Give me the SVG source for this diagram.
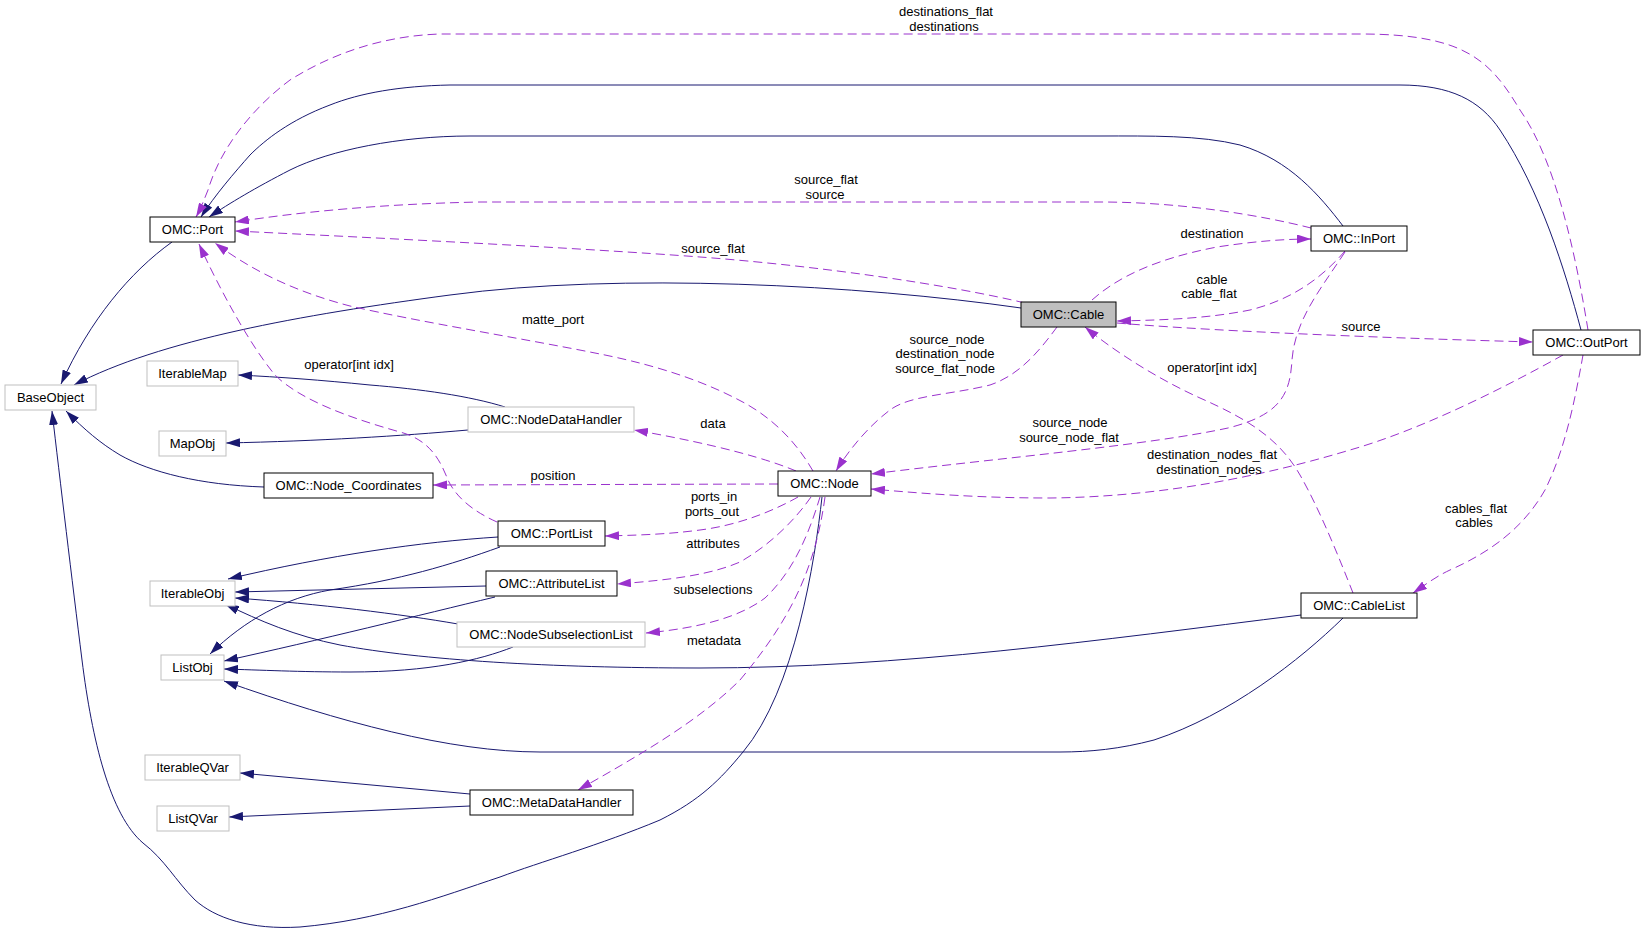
<svg xmlns="http://www.w3.org/2000/svg" width="1645" height="934" viewBox="0 0 1645 934">
<style>
text{font-family:"Liberation Sans",Arial,Helvetica,sans-serif;font-size:13px;fill:#000;text-anchor:middle}
.n rect{fill:#fff;stroke:#000;stroke-width:1}
.g rect{fill:#fff;stroke:#bfbfbf;stroke-width:1}
.cur rect{fill:#bfbfbf;stroke:#000;stroke-width:1}
.inh{fill:none;stroke:#191970;stroke-width:1;marker-end:url(#an)}
.use{fill:none;stroke:#9a32cd;stroke-width:1;stroke-dasharray:9,5;marker-end:url(#ap)}
</style>
<defs>
<marker id="an" viewBox="0 0 14 9" markerWidth="14" markerHeight="9" refX="14" refY="4.5" orient="auto" markerUnits="userSpaceOnUse"><path d="M0,0 L14,4.5 L0,9 z" fill="#191970" stroke="none"/></marker>
<marker id="ap" viewBox="0 0 14 9" markerWidth="14" markerHeight="9" refX="14" refY="4.5" orient="auto" markerUnits="userSpaceOnUse"><path d="M0,0 L14,4.5 L0,9 z" fill="#9a32cd" stroke="none"/></marker>
</defs>
<rect width="1645" height="934" fill="#fff"/>
<g id="connectors">
<path class="inh" d="M172,242 C130,272 90,320 61,384"/>
<path class="inh" d="M1021,308 C860,285 620,272 450,295 C300,315 160,340 74,385"/>
<path class="inh" d="M505,407 C470,396 420,389 370,385 C320,380 280,377 238,375"/>
<path class="inh" d="M468,430 C400,436 320,441 226,443"/>
<path class="inh" d="M264,487 C200,485 150,472 120,455 C100,443 85,430 66,411"/>
<path class="inh" d="M498,537 C420,542 330,555 228,579"/>
<path class="inh" d="M500,547 C450,565 400,580 330,590 C285,598 245,620 210,654"/>
<path class="inh" d="M486,586 L235,592"/>
<path class="inh" d="M495,597 C420,615 320,640 224,661"/>
<path class="inh" d="M458,624 C400,614 320,604 235,598"/>
<path class="inh" d="M513,647 C480,660 430,672 350,672 C300,672 260,670 224,669"/>
<path class="inh" d="M1301,615 C1100,640 900,668 700,668 C550,668 420,660 340,645 C295,636 260,621 225,604"/>
<path class="inh" d="M1343,618 C1300,660 1230,715 1154,740 C1120,749 1090,752 1060,752 L540,752 C450,752 340,722 224,681"/>
<path class="inh" d="M470,794 L240,773"/>
<path class="inh" d="M470,806 L229,817"/>
<path class="inh" d="M822,497 C815,560 795,690 743,752 C720,780 700,800 660,820 C600,845 540,862 500,877 C440,897 380,920 300,927 C250,930 215,918 195,900 C175,880 165,860 143,843 C110,815 92,740 82,660 C72,580 60,480 52,411"/>
<path class="inh" d="M1343,226 C1320,196 1290,160 1240,145 C1200,135 1150,136 1100,136 L470,136 C400,136 330,150 290,170 C255,188 230,203 209,217"/>
<path class="inh" d="M1581,330 C1565,270 1540,190 1500,130 C1480,100 1450,85 1400,85 L450,85 C400,86 360,93 330,105 C290,120 265,140 250,155 C235,172 215,195 201,217"/>
<path class="use" d="M1588,330 C1575,250 1555,160 1520,110 C1490,60 1465,34 1360,34 L440,34 C380,36 330,55 290,80 C250,110 220,150 208,190 C204,200 200,210 196,217"/>
<path class="use" d="M1311,228 C1260,215 1180,202 1100,202 L480,202 C380,204 300,212 235,222"/>
<path class="use" d="M1025,303 C950,285 820,266 700,257 C580,248 380,238 235,231"/>
<path class="use" d="M813,471 C795,440 770,415 735,398 C690,375 640,362 600,354 C520,338 420,322 350,306 C300,293 255,273 215,243"/>
<path class="use" d="M497,522 C470,510 455,495 448,480 C440,460 430,440 400,432 C350,418 300,400 275,375 C250,345 220,290 199,244"/>
<path class="use" d="M1092,300 C1120,275 1160,258 1217,247 C1250,242 1280,239 1311,239"/>
<path class="use" d="M1345,251 C1320,280 1290,300 1250,310 C1210,318 1170,320 1117,321"/>
<path class="use" d="M1117,323 C1200,330 1350,337 1533,342"/>
<path class="use" d="M1057,327 C1040,350 1020,375 990,385 C950,395 910,395 890,410 C870,425 850,448 836,471"/>
<path class="use" d="M1345,252 C1320,290 1295,320 1292,360 C1290,395 1280,415 1228,428 C1150,445 1000,458 871,474"/>
<path class="use" d="M1563,355 C1500,390 1420,430 1350,450 C1250,480 1150,497 1050,498 C980,498 930,494 871,489"/>
<path class="use" d="M1353,593 C1340,560 1320,510 1300,475 C1280,440 1250,420 1200,398 C1160,380 1115,352 1085,327"/>
<path class="use" d="M1583,355 C1575,400 1565,450 1545,490 C1525,525 1495,550 1450,570 C1435,577 1425,585 1413,593"/>
<path class="use" d="M796,471 C770,460 720,445 634,430"/>
<path class="use" d="M778,484 L433,485"/>
<path class="use" d="M798,497 C775,510 740,525 700,530 C670,534 645,535 605,536"/>
<path class="use" d="M811,497 C795,520 770,545 740,562 C710,575 670,580 617,584"/>
<path class="use" d="M820,497 C810,530 795,570 765,598 C740,617 700,628 646,633"/>
<path class="use" d="M825,497 C815,570 790,620 740,680 C700,720 640,755 578,790"/>
<text x="946" y="16">destinations_flat</text>
<text x="944" y="31">destinations</text>
<text x="826" y="184">source_flat</text>
<text x="825" y="199">source</text>
<text x="713" y="253">source_flat</text>
<text x="553" y="324">matte_port</text>
<text x="349" y="369">operator[int idx]</text>
<text x="1212" y="238">destination</text>
<text x="1212" y="284">cable</text>
<text x="1209" y="298">cable_flat</text>
<text x="1361" y="331">source</text>
<text x="947" y="344">source_node</text>
<text x="945" y="358">destination_node</text>
<text x="945" y="373">source_flat_node</text>
<text x="1070" y="427">source_node</text>
<text x="1069" y="442">source_node_flat</text>
<text x="1212" y="372">operator[int idx]</text>
<text x="1212" y="459">destination_nodes_flat</text>
<text x="1209" y="474">destination_nodes</text>
<text x="1476" y="513">cables_flat</text>
<text x="1474" y="527">cables</text>
<text x="713" y="428">data</text>
<text x="553" y="480">position</text>
<text x="714" y="501">ports_in</text>
<text x="712" y="516">ports_out</text>
<text x="713" y="548">attributes</text>
<text x="713" y="594">subselections</text>
<text x="714" y="645">metadata</text>
</g>
<g id="BaseObject" class="g"><rect x="5" y="385" width="91" height="25"/><text x="50.5" y="402">BaseObject</text></g>
<g id="Port" class="n"><rect x="150" y="217" width="85" height="25"/><text x="192.5" y="234">OMC::Port</text></g>
<g id="IterableMap" class="g"><rect x="147" y="361" width="91" height="25"/><text x="192.5" y="378">IterableMap</text></g>
<g id="MapObj" class="g"><rect x="159" y="431" width="67" height="25"/><text x="192.5" y="448">MapObj</text></g>
<g id="Node_Coordinates" class="n"><rect x="264" y="473" width="169" height="25"/><text x="348.5" y="490">OMC::Node_Coordinates</text></g>
<g id="NodeDataHandler" class="g"><rect x="468" y="407" width="166" height="25"/><text x="551" y="424">OMC::NodeDataHandler</text></g>
<g id="Node" class="n"><rect x="778" y="471" width="93" height="25"/><text x="824.5" y="488">OMC::Node</text></g>
<g id="PortList" class="n"><rect x="498" y="521" width="107" height="25"/><text x="551.5" y="538">OMC::PortList</text></g>
<g id="AttributeList" class="n"><rect x="486" y="571" width="131" height="25"/><text x="551.5" y="588">OMC::AttributeList</text></g>
<g id="NodeSubselectionList" class="g"><rect x="457" y="622" width="188" height="25"/><text x="551" y="639">OMC::NodeSubselectionList</text></g>
<g id="IterableObj" class="g"><rect x="150" y="581" width="85" height="25"/><text x="192.5" y="598">IterableObj</text></g>
<g id="ListObj" class="g"><rect x="161" y="655" width="63" height="25"/><text x="192.5" y="672">ListObj</text></g>
<g id="IterableQVar" class="g"><rect x="145" y="755" width="95" height="25"/><text x="192.5" y="772">IterableQVar</text></g>
<g id="ListQVar" class="g"><rect x="157" y="806" width="72" height="25"/><text x="193" y="823">ListQVar</text></g>
<g id="MetaDataHandler" class="n"><rect x="470" y="790" width="163" height="25"/><text x="551.5" y="807">OMC::MetaDataHandler</text></g>
<g id="Cable" class="cur"><rect x="1021" y="302" width="95" height="25"/><text x="1068.5" y="319">OMC::Cable</text></g>
<g id="InPort" class="n"><rect x="1311" y="226" width="96" height="25"/><text x="1359" y="243">OMC::InPort</text></g>
<g id="OutPort" class="n"><rect x="1533" y="330" width="107" height="25"/><text x="1586.5" y="347">OMC::OutPort</text></g>
<g id="CableList" class="n"><rect x="1301" y="593" width="116" height="25"/><text x="1359" y="610">OMC::CableList</text></g>
</svg>
